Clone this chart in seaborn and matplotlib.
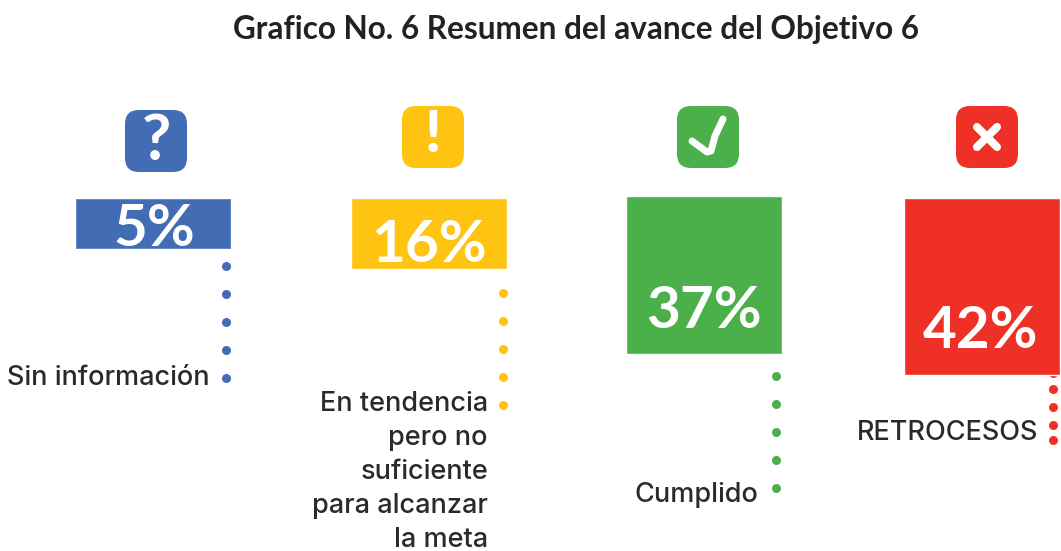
import matplotlib
matplotlib.use("Agg")
import matplotlib.pyplot as plt
from matplotlib.patches import FancyBboxPatch
import seaborn as sns

FONT = "Lato"
W, H = 1061, 551
categories = ["Sin información", "En tendencia", "Cumplido", "RETROCESOS"]
pct_labels = ["5%", "16%", "37%", "42%"]
# Bar lengths as drawn in the picture (the 5% bar is drawn longer than its share)
bar_lengths = [12.1, 16.8, 37.4, 41.9]
bar_start = [0, 0, -0.47, 0]
bar_shift = [0, 0, -0.006, 0]
colors = ["#426CB4", "#FFC312", "#4BB04A", "#EF3027"]
desc_lines = [["Sin información"],
              ["En tendencia", "pero no", "suficiente", "para alcanzar", "la meta"],
              ["Cumplido"],
              ["RETROCESOS"]]
title = "Grafico No. 6 Resumen del avance del Objetivo 6"

sns.set_theme(style="white")
plt.rcParams["font.family"] = [FONT, "DejaVu Sans"]
fig = plt.figure(figsize=(W / 100, H / 100), dpi=100, facecolor="white")

# Dots lie underneath the bars
under = fig.add_axes([0, 0, 1, 1], zorder=0)
under.set_xlim(0, W)
under.set_ylim(H, 0)
under.axis("off")

# Bars
ax = fig.add_axes([0, 0, 1, 1], zorder=1, facecolor="none")
sns.barplot(x=categories, y=bar_lengths, hue=categories, palette=colors, order=categories,
            hue_order=categories, width=0.565, legend=False, saturation=1, ax=ax)
spacing, px_unit = 276.5, 4.22
ax.set_xlim(-152.7 / spacing, (W - 152.7) / spacing)
ax.set_ylim((H - 198) / px_unit, -198 / px_unit)
ax.axis("off")
for patch, start, shift in zip(ax.patches, bar_start, bar_shift):
    patch.set_y(start)
    patch.set_x(patch.get_x() + shift)

# Overlay in pixel coordinates for pictograms and text
ov = fig.add_axes([0, 0, 1, 1], zorder=2, facecolor="none")
ov.set_xlim(0, W)
ov.set_ylim(H, 0)
ov.axis("off")

ov.text(576, 29, title, ha="center", va="center", fontsize=22.7, fontweight="bold", color="#222222")

icon_x = [156, 433, 708, 987]
icon_top = [110, 106, 106, 106]
for ix, top, col in zip(icon_x, icon_top, colors):
    pad = 13
    ov.add_patch(FancyBboxPatch((ix - 31 + pad, top + pad), 62 - 2 * pad, 62 - 2 * pad,
                                boxstyle=f"round,pad={pad},rounding_size=14",
                                facecolor=col, edgecolor="none"))

ov.text(156, 141, "?", ha="center", va="center", color="white", fontsize=46, fontweight="bold")
ov.text(433, 136, "!", ha="center", va="center", color="white", fontsize=42, fontweight="black")
ov.plot([692, 707, 711, 715, 723], [141, 152, 151, 136, 119], color="white", lw=5,
        solid_capstyle="round", solid_joinstyle="round")
ov.plot([977, 997], [127, 147], color="white", lw=5.8, solid_capstyle="round")
ov.plot([997, 977], [127, 147], color="white", lw=5.8, solid_capstyle="round")

pct_y = [229, 245, 312, 332]
pct_x = [154, 429, 704, 981]
for x, y, s in zip(pct_x, pct_y, pct_labels):
    ov.text(x, y, s, ha="center", va="center", color="white", fontsize=42, fontweight="bold")

# Dotted leaders
dot_x = [226, 503, 776, 1053]
dot_y = [[238, 266, 294, 322, 350, 378],
         [265, 293, 321, 349, 377, 405],
         [376, 404, 432, 460, 488],
         [373, 389, 407, 425, 440]]
for x, ys, col in zip(dot_x, dot_y, colors):
    under.scatter([x] * len(ys), ys, s=42, color=col, linewidths=0)

desc_right = [210, 488, 758, 1038]
desc_base = [385, 411, 502, 440]
for x, y, lines in zip(desc_right, desc_base, desc_lines):
    for i, line in enumerate(lines):
        ov.text(x, y + i * 34, line, ha="right", va="baseline", fontsize=19.5,
                fontweight="medium", color="#2A2A2A", family=["Inter", "DejaVu Sans"])

fig.savefig("out.png", dpi=100, facecolor="white")
